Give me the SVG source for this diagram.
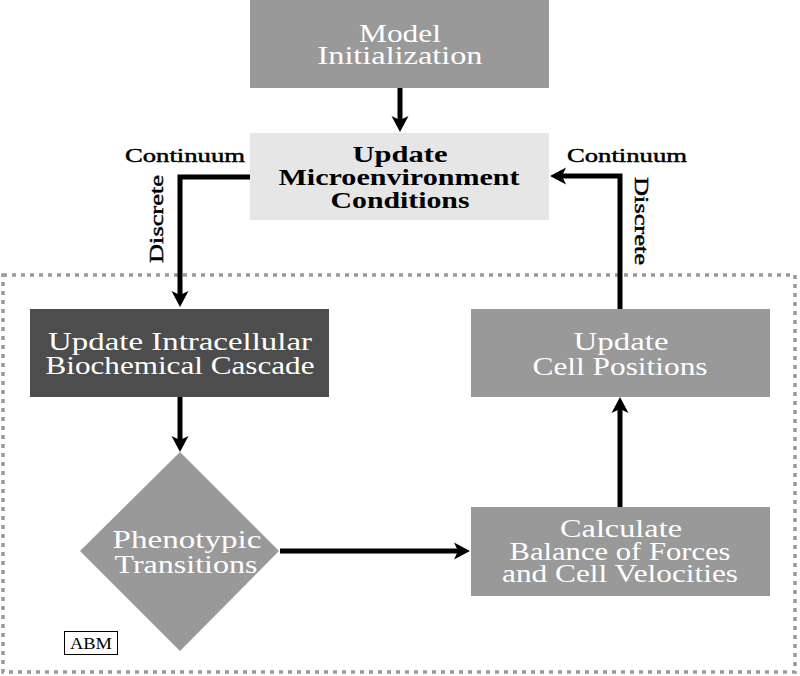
<svg xmlns="http://www.w3.org/2000/svg" width="800" height="676" viewBox="0 0 800 676">
<style>
.t{font-family:"Liberation Serif","Times New Roman",serif;text-anchor:middle}
.w{fill:#ffffff;font-size:26px}
.b{fill:#000000;font-size:24px;font-weight:bold}
.lab{fill:#000000;font-size:19px;stroke:#000;stroke-width:0.45}
.edge{fill:none;stroke:#000;stroke-width:5}
</style>
<defs>
<marker id="ah" markerUnits="userSpaceOnUse" markerWidth="30" markerHeight="30" viewBox="-10 -15 30 30" refX="0" refY="0" orient="auto" overflow="visible">
<path d="M10,0 L-6,-8.5 L-2,0 L-6,8.5 Z" fill="#000"/>
</marker>
</defs>
<rect id="abm-frame" x="3" y="275" width="792" height="397" fill="none" stroke="#999" stroke-width="3.5" stroke-dasharray="4 5"/>
<g id="edges">
<path class="edge" d="M400,88 V122" marker-end="url(#ah)"/>
<path class="edge" d="M250,177 H180 V297" marker-end="url(#ah)"/>
<path class="edge" d="M180,397 V442" marker-end="url(#ah)"/>
<path class="edge" d="M280,551 H460" marker-end="url(#ah)"/>
<path class="edge" d="M620,507 V407" marker-end="url(#ah)"/>
<path class="edge" d="M620,309 V176 H560" marker-end="url(#ah)"/>
<text class="t lab" x="185" y="162" textLength="120" lengthAdjust="spacingAndGlyphs">Continuum</text>
<text class="t lab" x="627" y="162" textLength="120" lengthAdjust="spacingAndGlyphs">Continuum</text>
<text class="t lab" transform="translate(163,219) rotate(-90)" x="0" y="0" textLength="88" lengthAdjust="spacingAndGlyphs">Discrete</text>
<text class="t lab" transform="translate(635,221) rotate(90)" x="0" y="0" textLength="88" lengthAdjust="spacingAndGlyphs">Discrete</text>
</g>
<g id="model-init">
<rect x="250" y="0" width="299" height="88" fill="#999"/>
<text class="t w" x="400" y="42" textLength="82" lengthAdjust="spacingAndGlyphs">Model</text>
<text class="t w" x="400" y="64" textLength="165" lengthAdjust="spacingAndGlyphs">Initialization</text>
</g>
<g id="microenv">
<rect x="250" y="133" width="299" height="87" fill="#e6e6e6"/>
<text class="t b" x="400" y="162" textLength="95" lengthAdjust="spacingAndGlyphs">Update</text>
<text class="t b" x="399" y="185" textLength="241" lengthAdjust="spacingAndGlyphs">Microenvironment</text>
<text class="t b" x="400" y="208" textLength="139" lengthAdjust="spacingAndGlyphs">Conditions</text>
</g>
<g id="intracellular">
<rect x="30" y="309" width="299" height="88" fill="#4d4d4d"/>
<text class="t w" x="180" y="350" textLength="264" lengthAdjust="spacingAndGlyphs">Update Intracellular</text>
<text class="t w" x="180" y="374" textLength="269" lengthAdjust="spacingAndGlyphs">Biochemical Cascade</text>
</g>
<g id="phenotypic">
<polygon points="180,452 279,551 180,651 80,551" fill="#999"/>
<text class="t w" x="187" y="548" textLength="149" lengthAdjust="spacingAndGlyphs">Phenotypic</text>
<text class="t w" x="186" y="573" textLength="143" lengthAdjust="spacingAndGlyphs">Transitions</text>
</g>
<g id="forces">
<rect x="471" y="507" width="299" height="89" fill="#999"/>
<text class="t w" x="621" y="537" textLength="122" lengthAdjust="spacingAndGlyphs">Calculate</text>
<text class="t w" x="620" y="560" textLength="221" lengthAdjust="spacingAndGlyphs">Balance of Forces</text>
<text class="t w" x="620" y="582" textLength="236" lengthAdjust="spacingAndGlyphs">and Cell Velocities</text>
</g>
<g id="positions">
<rect x="471" y="309" width="299" height="88" fill="#999"/>
<text class="t w" x="621" y="350" textLength="95" lengthAdjust="spacingAndGlyphs">Update</text>
<text class="t w" x="620" y="375" textLength="175" lengthAdjust="spacingAndGlyphs">Cell Positions</text>
</g>
<g id="abm-label">
<rect x="64.5" y="631.5" width="53" height="23" fill="#fff" stroke="#000" stroke-width="1"/>
<text class="t" x="91" y="649" font-size="16" textLength="42" lengthAdjust="spacingAndGlyphs">ABM</text>
</g>
</svg>
